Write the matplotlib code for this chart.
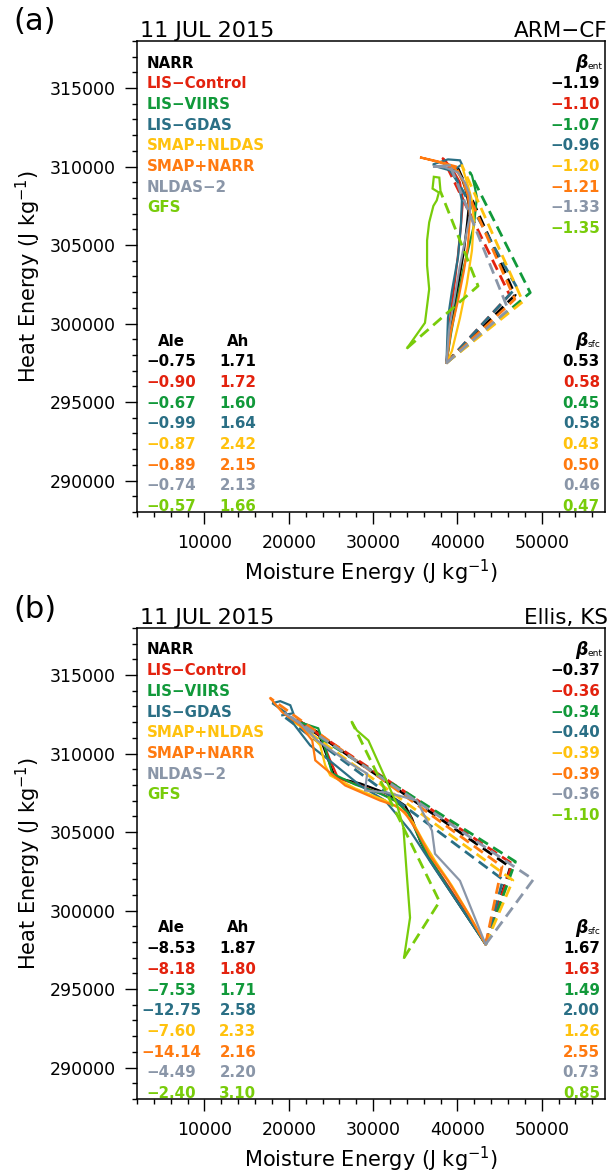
import numpy as np
import matplotlib
matplotlib.use("Agg")
import matplotlib.pyplot as plt
from matplotlib.ticker import MultipleLocator, FuncFormatter

plt.rcParams['font.family'] = ['DejaVu Sans']

# ---------------- data ----------------
names = ['NARR', 'LIS\u2212Control', 'LIS\u2212VIIRS', 'LIS\u2212GDAS',
         'SMAP+NLDAS', 'SMAP+NARR', 'NLDAS\u22122', 'GFS']
colors = ['#000000', '#e3220e', '#11993a', '#2a6f85',
          '#ffc20e', '#ff7a10', '#8a96a8', '#78cc0a']

# (a) ARM-CF
beta_ent_a = [-1.19, -1.10, -1.07, -0.96, -1.20, -1.21, -1.33, -1.35]
beta_sfc_a = [0.53, 0.58, 0.45, 0.58, 0.43, 0.50, 0.46, 0.47]
ale_a = [-0.75, -0.90, -0.67, -0.99, -0.87, -0.89, -0.74, -0.57]
ah_a = [1.71, 1.72, 1.60, 1.64, 2.42, 2.15, 2.13, 1.66]

le_a = [
    [38700, 39350, 40180, 40770, 41120, 41360, 41000, 40530, 40060],
    [38700, 39110, 39700, 40060, 40410, 40650, 40300, 39470, 38520, 38280],
    [38700, 39230, 39940, 40650, 41240, 41950, 42310, 42070, 41720, 41480],
    [38700, 38880, 39350, 40060, 40410, 40530, 40060, 39110, 37450, 37100, 38880, 40300, 40530, 39350],
    [38700, 39350, 40300, 41120, 41720, 41950, 41720, 41240, 40770, 40530],
    [38700, 39230, 40060, 40770, 41240, 41480, 41240, 40650, 39700, 37930, 35560, 37690, 39820],
    [38700, 38990, 39700, 40300, 40890, 41480, 41480, 40890, 40060, 38520, 37100, 39110],
    [34050, 36150, 36650, 36400, 36400, 36650, 37150, 37550, 37800, 37050, 37200, 37850, 38000],
]
h_a = [
    [297500, 300170, 302730, 304650, 306240, 307520, 308480, 309250, 309890],
    [297500, 300170, 302730, 304330, 306240, 307840, 308990, 309760, 310400, 310520],
    [297500, 299340, 301450, 303370, 304650, 306240, 308030, 308670, 309440, 309630],
    [297500, 300360, 302090, 304200, 306240, 307840, 308990, 309760, 310010, 310140, 310460, 310400, 310140, 309690],
    [297500, 298260, 300360, 302540, 304650, 306560, 307840, 308800, 309630, 310080],
    [297500, 299530, 301450, 303370, 304960, 306880, 308160, 309120, 309890, 310270, 310590, 310330, 310010],
    [297500, 299530, 301770, 303690, 305280, 306880, 308160, 308990, 309630, 309950, 310010, 310080],
    [298450, 300050, 302200, 303700, 305300, 306450, 307500, 307850, 308350, 308600, 309350, 309300, 308400],
]

# (b) Ellis, KS
beta_ent_b = [-0.37, -0.36, -0.34, -0.40, -0.39, -0.39, -0.36, -1.10]
beta_sfc_b = [1.67, 1.63, 1.49, 2.00, 1.26, 2.55, 0.73, 0.85]
ale_b = [-8.53, -8.18, -7.53, -12.75, -7.60, -14.14, -4.49, -2.40]
ah_b = [1.87, 1.80, 1.71, 2.58, 2.33, 2.16, 2.20, 3.10]

le_b = [
    [43340, 41480, 39110, 36750, 35560, 34620, 33790, 31660, 28460, 25500, 24560, 23490, 21720, 21010],
    [43340, 41240, 38880, 36750, 35320, 34380, 33200, 31420, 28460, 25860, 24910, 23730, 21950, 21120],
    [43340, 41120, 38760, 36510, 35210, 34140, 32600, 30830, 27870, 25150, 24320, 23490, 21360, 20410],
    [43340, 40300, 37340, 34380, 31420, 28460, 25270, 22540, 20890, 19590, 18050, 18990, 20180, 20530, 19230],
    [43340, 41480, 39350, 37340, 35920, 34730, 33200, 31420, 27870, 24910, 24320, 23730, 21950, 20770],
    [43340, 41240, 38880, 36750, 35320, 33790, 32600, 30830, 26690, 23140, 22780, 21360, 19230, 17810],
    [43340, 40300, 37340, 36980, 35210, 31660, 29050, 29290, 27280, 23370, 21360, 19590],
    [33670, 34380, 33990, 33590, 32800, 31220, 29440, 28070, 27480],
]
h_b = [
    [297850, 299340, 301260, 303180, 304450, 305860, 306690, 307460, 308100, 308480, 309760, 311350, 311930, 312120],
    [297850, 299660, 301580, 303300, 304770, 306050, 306820, 307330, 307970, 308420, 309570, 311160, 311870, 312120],
    [297850, 299660, 301580, 303490, 304900, 306240, 307010, 307460, 308030, 308730, 310330, 311610, 311990, 312120],
    [297850, 300300, 302660, 305090, 307010, 307970, 309370, 310520, 311670, 312630, 313210, 313340, 313080, 312570, 312440],
    [297850, 299660, 301580, 303180, 304450, 305600, 306500, 307010, 307780, 308610, 309250, 310520, 311610, 311990],
    [297850, 299850, 301900, 303490, 304960, 306240, 306690, 307010, 307970, 309570, 310840, 311800, 312630, 313530],
    [297850, 301900, 303620, 305090, 307010, 307520, 307650, 308730, 309370, 310840, 311930, 312570],
    [297000, 299550, 302330, 305300, 306800, 308710, 310840, 311480, 312010],
]

panels = [
    ('(a)', 'ARM\u2212CF', le_a, h_a, beta_ent_a, beta_sfc_a, ale_a, ah_a),
    ('(b)', 'Ellis, KS', le_b, h_b, beta_ent_b, beta_sfc_b, ale_b, ah_b),
]


def vector_corner(x, y, b_sfc, b_ent):
    # surface-flux leg from the first point (slope b_sfc), then the
    # entrainment leg (slope b_ent) into the last point
    dx = x[-1] - x[0]
    dy = y[-1] - y[0]
    u = (dy - b_ent * dx) / (b_sfc - b_ent)
    return x[0] + u, y[0] + b_sfc * u


def fmt_num(v):
    return f'{v:.2f}'.replace('-', '\u2212')


W, H = 610, 1173
fig = plt.figure(figsize=(W / 100, H / 100), dpi=100)

ax_px = [(137, 41, 605, 512), (137, 628, 605, 1099)]

for (tag, site, le, hh, bent, bsfc, ale, ah), (l, t, r, b) in zip(panels, ax_px):
    ax = fig.add_axes([l / W, 1 - b / H, (r - l) / W, (b - t) / H])
    ax.set_xlim(2000, 57500)
    ax.set_ylim(288000, 318000)

    for i in range(len(names)):
        x = le[i]
        y = hh[i]
        cx, cy = vector_corner(x, y, bsfc[i], bent[i])
        ax.plot(x, y, color=colors[i], lw=1.6, solid_joinstyle='miter', zorder=2 + i)
        ax.plot([x[0], cx, x[-1]], [y[0], cy, y[-1]], color=colors[i], lw=2.0,
                dashes=(4, 2.2), zorder=2 + i)

    ax.xaxis.set_major_locator(MultipleLocator(10000))
    ax.xaxis.set_minor_locator(MultipleLocator(2000))
    ax.yaxis.set_major_locator(MultipleLocator(5000))
    ax.yaxis.set_minor_locator(MultipleLocator(1000))
    ax.xaxis.set_major_formatter(FuncFormatter(lambda v, p: f'{int(v)}'))
    ax.yaxis.set_major_formatter(FuncFormatter(lambda v, p: f'{int(v)}'))
    ax.tick_params(which='both', direction='out', top=False, right=False,
                   labelsize=12.5, width=1.0)
    ax.tick_params(which='major', length=8.5, pad=7)
    ax.tick_params(which='minor', length=3.5)
    for s in ax.spines.values():
        s.set_linewidth(1.1)

    ax.set_xlabel('Moisture Energy (J kg$^{-1}$)', fontsize=15)
    ax.set_ylabel('Heat Energy (J kg$^{-1}$)', fontsize=15)
    ax.xaxis.set_label_coords(0.5, -0.098)
    ax.yaxis.set_label_coords(-0.2, 0.5)

    ax.text(0.006, 1.009, '11 JUL 2015', transform=ax.transAxes,
            fontsize=16, ha='left', va='baseline')
    ax.text(1.006, 1.009, site, transform=ax.transAxes,
            fontsize=15.5, ha='right', va='baseline')
    fig.text(35 / W, 1 - (t - 19) / H, tag, fontsize=22, ha='center', va='center')

    hgt = b - t
    step = 20.7 / hgt
    # model names and entrainment ratios
    y0 = 1 - 22 / hgt
    for i, nm in enumerate(names):
        ax.text(0.021, y0 - i * step, nm, transform=ax.transAxes, color=colors[i],
                fontsize=10.8, fontweight='bold', ha='left', va='center')
    ax.text(0.962, y0, '\u03b2', transform=ax.transAxes, fontsize=12.5,
            fontweight='bold', fontstyle='italic', ha='right', va='center')
    ax.text(0.963, y0 - 0.008, 'ent', transform=ax.transAxes, fontsize=6.5,
            ha='left', va='center')
    for i, v in enumerate(bent):
        ax.text(0.989, y0 - (i + 1) * step, fmt_num(v), transform=ax.transAxes,
                color=colors[i], fontsize=10.8, fontweight='bold', ha='right', va='center')

    # mixing ratios and surface Bowen ratios
    y1 = 1 - 300 / hgt
    ax.text(0.0726, y1, 'Ale', transform=ax.transAxes, fontsize=10.8,
            fontweight='bold', ha='center', va='center')
    ax.text(0.2158, y1, 'Ah', transform=ax.transAxes, fontsize=10.8,
            fontweight='bold', ha='center', va='center')
    ax.text(0.962, y1, '\u03b2', transform=ax.transAxes, fontsize=12.5,
            fontweight='bold', fontstyle='italic', ha='right', va='center')
    ax.text(0.963, y1 - 0.008, 'sfc', transform=ax.transAxes, fontsize=6.5,
            ha='left', va='center')
    for i in range(len(names)):
        yy = y1 - (i + 1) * step
        ax.text(0.0726, yy, fmt_num(ale[i]), transform=ax.transAxes, color=colors[i],
                fontsize=10.8, fontweight='bold', ha='center', va='center')
        ax.text(0.2158, yy, fmt_num(ah[i]), transform=ax.transAxes, color=colors[i],
                fontsize=10.8, fontweight='bold', ha='center', va='center')
        ax.text(0.989, yy, fmt_num(bsfc[i]), transform=ax.transAxes, color=colors[i],
                fontsize=10.8, fontweight='bold', ha='right', va='center')

fig.savefig('out.png', dpi=100)
